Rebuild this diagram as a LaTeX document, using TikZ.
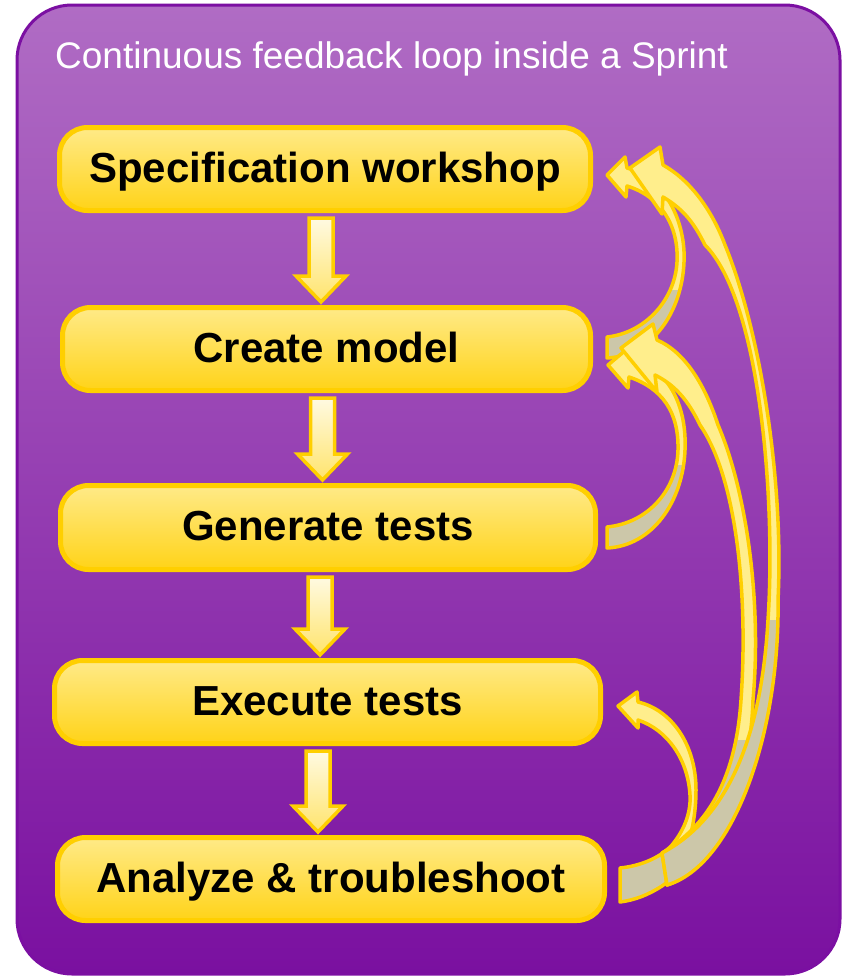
\documentclass[tikz,border=0pt]{standalone}
\usepackage{fontspec}
\setmainfont{Liberation Sans}
\usetikzlibrary{calc}
\definecolor{pTop}{HTML}{B06CC4}
\definecolor{pBot}{HTML}{7A10A0}
\definecolor{pEdge}{HTML}{7B0FA2}
\definecolor{gold}{HTML}{FFCF00}
\definecolor{bTop}{HTML}{FFEA88}
\definecolor{bBot}{HTML}{FFD318}
\definecolor{aTop}{HTML}{FFFAE2}
\definecolor{aBot}{HTML}{FFE46C}
\definecolor{cYel}{HTML}{FFEE8C}
\definecolor{cGry}{HTML}{CCC7A9}
\tikzset{
 frame/.style={draw=pEdge, line width=3pt, top color=pTop, bottom color=pBot, rounded corners=55pt},
 stepbox/.style={draw=gold, line width=5pt, top color=bTop, bottom color=bBot, rounded corners=28pt, inner sep=0pt,
   font=\fontsize{42}{50}\selectfont\bfseries, text height=30pt, text depth=4pt, minimum height=83pt},
 downarrow/.style={draw=gold, line width=3.5pt, top color=aTop, bottom color=aBot, line join=miter},
 bendedge/.style={draw=gold, line width=3.5pt, line join=round},
 titletext/.style={text=white, font=\fontsize{37}{44}\selectfont, inner sep=0pt, anchor=base west},
}
\newcommand\flowarrow[3]{%
  \draw[downarrow] let \p1=($(#1.south)+(#3,5)$), \p2=($(#2.north)+(#3,-3)$) in
   (\x1-12pt,\y1) -- (\x1+12pt,\y1) -- (\x1+12pt,\y2+26pt) -- (\x1+25pt,\y2+26pt) -- (\x1,\y2)
   -- (\x1-25pt,\y2+26pt) -- (\x1-12pt,\y2+26pt) -- cycle;}
\newcommand\bendarrow[2]{%
  \begin{scope}
   \clip #1;
   \fill[cGry] (0,#2) rectangle (846,977);
   \fill[cYel] (0,0) rectangle (846,#2);
  \end{scope}
  \draw[bendedge] #1;}
\begin{document}
\begin{tikzpicture}[x=1pt,y=-1pt]
\useasboundingbox (0,0) rectangle (846,977);
\path[frame] (17,5) rectangle (840,974);
\node[titletext] (ttl) at (55,68) {Continuous feedback loop inside a Sprint};
\node[stepbox, minimum width=531pt] (s1) at (325,169) {Specification workshop};
\node[stepbox, minimum width=528pt] (s2) at (326.5,349) {Create model};
\node[stepbox, minimum width=535pt, minimum height=84pt] (s3) at (328,527.5) {Generate tests};
\node[stepbox, minimum width=546pt] (s4) at (327.5,702) {Execute tests};
\node[stepbox, minimum width=547pt] (s5) at (331,879) {Analyze \& troubleshoot};
\flowarrow{s1}{s2}{-4}
\flowarrow{s2}{s3}{-4}
\flowarrow{s3}{s4}{-8}
\flowarrow{s4}{s5}{-9.5}
% feedback arrows
\bendarrow{(607,337) .. controls (645,333) and (675,300) .. (677,262) .. controls (679,225) and (660,196) .. (627,186) -- (626,197) -- (607,175) -- (625,157) -- (627,168) .. controls (665,178) and (686,222) .. (684,262) .. controls (682,312) and (652,356) .. (607,358) -- cycle}{290}
\bendarrow{(607,527) .. controls (648,523) and (677,490) .. (678,450) .. controls (679,412) and (662,388) .. (629,377) -- (628,388) -- (608,365) -- (627,349) -- (629,358) .. controls (668,367) and (687,405) .. (685,450) .. controls (683,502) and (652,546) .. (607,548) -- cycle}{465}
\bendarrow{(620,868) .. controls (640,866) and (660,858) .. (672,845) .. controls (686,828) and (691,810) .. (690,795) .. controls (688,760) and (668,730) .. (638,720) -- (638,728) -- (618,706) -- (637,692) -- (638,702) .. controls (672,710) and (696,745) .. (696,790) .. controls (696,835) and (680,875) .. (662,886) .. controls (648,895) and (635,900) .. (620,902) -- cycle}{850}
\bendarrow{(662,853) .. controls (700,830) and (735,790) .. (741,700) .. controls (748,600) and (738,480) .. (700,425) .. controls (688,400) and (675,385) .. (655,375) -- (657,392) -- (621,348) -- (653,324) -- (657,340) .. controls (685,352) and (705,385) .. (718,425) .. controls (746,490) and (762,600) .. (753,700) .. controls (750,790) and (715,870) .. (667,885) -- cycle}{740}
\bendarrow{(662,853) .. controls (715,825) and (760,760) .. (768,620) .. controls (776,500) and (760,300) .. (705,245) .. controls (695,225) and (685,210) .. (663,197) -- (662,214) -- (630,168) -- (660,147) -- (663,165) .. controls (690,180) and (712,210) .. (725,245) .. controls (760,330) and (784,480) .. (778,600) .. controls (780,730) and (735,865) .. (667,885) -- cycle}{620}
\end{tikzpicture}
\end{document}
